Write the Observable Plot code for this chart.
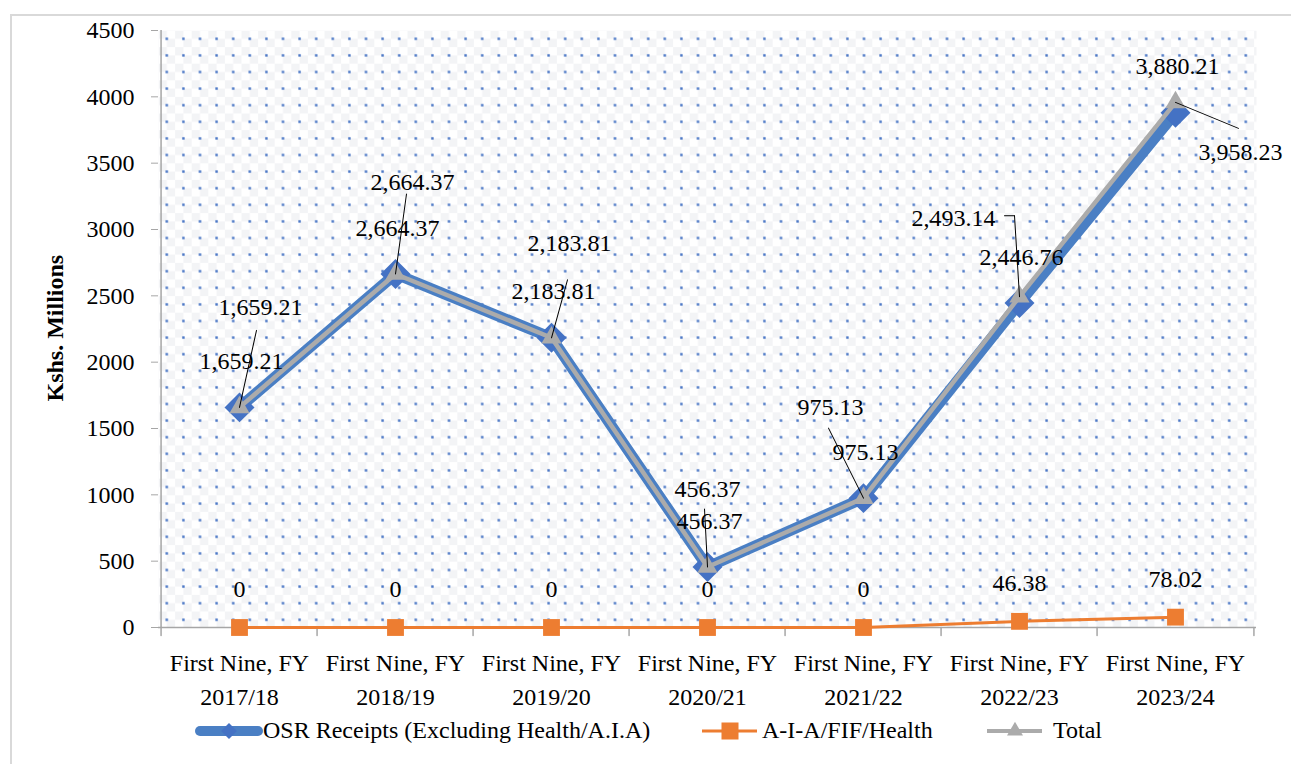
<!DOCTYPE html>
<html>
<head>
<meta charset="utf-8">
<script src="https://cdn.jsdelivr.net/npm/d3@7"></script>
<script src="https://cdn.jsdelivr.net/npm/@observablehq/plot@0.6"></script>
<style>
  html, body { margin: 0; padding: 0; background: #fff; }
  body { width: 1291px; height: 764px; position: relative; overflow: hidden;
         font-family: "Liberation Serif", "Times New Roman", serif; color: #000; }
  #chart { position: absolute; left: 0; top: 0; }
  #border { position: absolute; left: 10px; top: 14px; width: 1300px; height: 800px;
            border-left: 2px solid #d9d9d9; border-top: 2px solid #d9d9d9; pointer-events: none; }
  .leg { position: absolute; }
  .legtxt { position: absolute; font-size: 24px; line-height: 26px; white-space: nowrap; }
</style>
</head>
<body>
<div id="chart"></div>
<div id="legend"></div>
<div id="border"></div>
<script>
// ---------- data ----------
const periods = ["2017/18", "2018/19", "2019/20", "2020/21", "2021/22", "2022/23", "2023/24"];
const periodPrefix = "First Nine, FY";
const osr   = [1659.21, 2664.37, 2183.81, 456.37, 975.13, 2446.76, 3880.21];
const aia   = [0, 0, 0, 0, 0, 46.38, 78.02];
const total = [1659.21, 2664.37, 2183.81, 456.37, 975.13, 2493.14, 3958.23];
const yTicks = [0, 500, 1000, 1500, 2000, 2500, 3000, 3500, 4000, 4500];
const seriesNames = ["OSR Receipts (Excluding Health/A.I.A)", "A-I-A/FIF/Health", "Total"];
const yLabel = "Kshs. Millions";

// ---------- layout (pixel offsets of the "Total" data labels and leader lines) ----------
const totalLabelOffsets = [[21, -100], [17, -92], [18, -94], [0, -78], [-33, -91], [-66, -78], [65, 50]];
const leaderEnds = [[17, -77], [11, -80], [16, -58], [-3, -58], [-35, -70], [-5, -81], [63, 26]];

const W = 1291, H = 724;
const mL = 158, mR = 35, mT = 30, mB = H - 627;
const step = (W - mL - mR) / periods.length;
const FS = 24;

const blueLine = "#4a7fc4", blueMark = "#4472c4", orange = "#ed7d31", gray = "#ababab", axisGray = "#a6a6a6";
const font = "'Liberation Serif', 'Times New Roman', serif";

const rows = periods.map((p, i) => ({period: p, osr: osr[i], aia: aia[i], total: total[i]}));
const fmt = d3.format(",.2f");
const fmtA = v => v === 0 ? "0" : fmt(v);

const lineShape = {draw(ctx, l) { ctx.moveTo(0, 0); ctx.lineTo(0, -l); }};

const totalLabelMarks = totalLabelOffsets.map(([dx, dy], k) =>
  Plot.text(rows, {filter: (d, i) => i === k, x: "period", y: "total", text: d => fmt(d.total), dx, dy, fontSize: FS, fill: "black"}));
const leaderMarks = leaderEnds.map(([ex, ey], k) =>
  Plot.vector(rows, {filter: (d, i) => i === k, x: "period", y: "total", anchor: "start", shape: lineShape,
    length: Math.hypot(ex, ey), rotate: Math.atan2(ex, -ey) * 180 / Math.PI, stroke: "black", strokeWidth: 1}));
// horizontal stub of the 2022/23 leader
const stubMark = Plot.vector(rows, {filter: (d, i) => i === 5, x: "period", y: "total", anchor: "start", shape: lineShape,
  length: 10, rotate: -90, dx: leaderEnds[5][0], dy: leaderEnds[5][1], stroke: "black", strokeWidth: 1});

const svg = Plot.plot({
  width: W, height: H,
  marginLeft: mL, marginRight: mR, marginTop: mT, marginBottom: mB,
  style: {fontFamily: font, fontSize: FS + "px", color: "black", background: "transparent"},
  x: {type: "point", domain: periods, padding: 0.5},
  y: {domain: [0, 4500]},
  marks: [
    Plot.frame({fill: "url(#dots)", stroke: "none"}),
    Plot.axisY({ticks: yTicks, tickSize: 7, tickPadding: 17, tickFormat: d => String(d), stroke: axisGray, fill: "black", fontSize: FS, label: null}),
    Plot.axisX({tickSize: 0, tickPadding: 19, tickFormat: p => periodPrefix + "\n" + p, fontSize: FS, lineHeight: 1.42, fill: "black", label: null}),
    Plot.ruleX([periods[0]], {dx: -step / 2, stroke: axisGray, strokeWidth: 1.5}),
    Plot.ruleY([0], {stroke: axisGray, strokeWidth: 1.5}),
    Plot.vector(periods, {x: d => d, y: d => 0, anchor: "start", shape: lineShape, length: 8, rotate: 180, dx: -step / 2, stroke: axisGray, strokeWidth: 1.5}),
    Plot.vector([periods[periods.length - 1]], {x: d => d, y: d => 0, anchor: "start", shape: lineShape, length: 8, rotate: 180, dx: step / 2, stroke: axisGray, strokeWidth: 1.5}),
    // OSR
    Plot.line(rows, {x: "period", y: "osr", stroke: blueLine, strokeWidth: 11, strokeLinejoin: "round", strokeLinecap: "round"}),
    Plot.dot(rows, {x: "period", y: "osr", symbol: "diamond2", r: 13.5, fill: blueMark, stroke: "none"}),
    // A-I-A
    Plot.line(rows, {x: "period", y: "aia", stroke: orange, strokeWidth: 3}),
    Plot.dot(rows, {x: "period", y: "aia", symbol: "square", r: 9.5, fill: orange, stroke: "none"}),
    // Total
    Plot.line(rows, {x: "period", y: "total", stroke: gray, strokeWidth: 4.5, strokeLinejoin: "round"}),
    Plot.dot(rows, {x: "period", y: "total", symbol: "triangle", r: 7.5, fill: gray, stroke: "none"}),
    // leaders
    ...leaderMarks, stubMark,
    // labels
    Plot.text(rows, {x: "period", y: "osr", text: d => fmt(d.osr), dx: 2, dy: -46, fontSize: FS, fill: "black"}),
    ...totalLabelMarks,
    Plot.text(rows, {x: "period", y: "aia", text: d => fmtA(d.aia), dy: -38, fontSize: FS, fill: "black"}),
    // y label
    Plot.text([yLabel], {frameAnchor: "left", rotate: -90, dx: 55 - mL, dy: 401 - (mT + 627) / 2, fontSize: 24, fontWeight: "bold", fill: "black"})
  ]
});

const defs = d3.select(svg).insert("defs", ":first-child");
const P = 16.6;
const pat = defs.append("pattern").attr("id", "dots").attr("patternUnits", "userSpaceOnUse")
  .attr("x", mL).attr("y", mT).attr("width", P).attr("height", P);
pat.append("rect").attr("width", P).attr("height", P).attr("fill", "#fff");
pat.append("rect").attr("x", 0).attr("y", 0).attr("width", P / 2).attr("height", P / 2).attr("fill", "#f3f4f6");
pat.append("rect").attr("x", P / 2).attr("y", P / 2).attr("width", P / 2).attr("height", P / 2).attr("fill", "#f3f4f6");
pat.append("rect").attr("x", P / 2 - 1.2).attr("y", P / 2 - 1.2).attr("width", 2.4).attr("height", 2.4).attr("fill", "#4472c4");

document.getElementById("chart").appendChild(svg);

// ---------- legend ----------
const legend = d3.select("#legend");
const cy = 731;
function swatch(left, w, draw) {
  const s = legend.append("svg").attr("class", "leg").style("left", left + "px").style("top", (cy - 15) + "px")
    .attr("width", w).attr("height", 30);
  draw(s, w);
}
swatch(194, 70, (s, w) => {
  s.append("line").attr("x1", 6).attr("x2", w - 6).attr("y1", 15).attr("y2", 15)
    .attr("stroke", blueLine).attr("stroke-width", 10).attr("stroke-linecap", "round");
  s.append("path").attr("d", d3.symbol(d3.symbolDiamond2, 160)()).attr("transform", `translate(${w / 2},15)`).attr("fill", blueMark);
});
swatch(700, 60, (s, w) => {
  s.append("line").attr("x1", 2).attr("x2", w - 3).attr("y1", 15).attr("y2", 15).attr("stroke", orange).attr("stroke-width", 3);
  s.append("rect").attr("x", w / 2 - 8.5).attr("y", 6.5).attr("width", 17).attr("height", 17).attr("fill", orange);
});
swatch(985, 60, (s, w) => {
  s.append("line").attr("x1", 2).attr("x2", w - 3).attr("y1", 15).attr("y2", 15).attr("stroke", gray).attr("stroke-width", 4);
  s.append("path").attr("d", d3.symbol(d3.symbolTriangle, 110)()).attr("transform", `translate(${w / 2},15)`).attr("fill", gray);
});
const textLefts = [263, 762, 1053];
seriesNames.forEach((name, i) => {
  legend.append("div").attr("class", "legtxt").style("left", textLefts[i] + "px").style("top", (cy - 14) + "px").text(name);
});
</script>
</body>
</html>
